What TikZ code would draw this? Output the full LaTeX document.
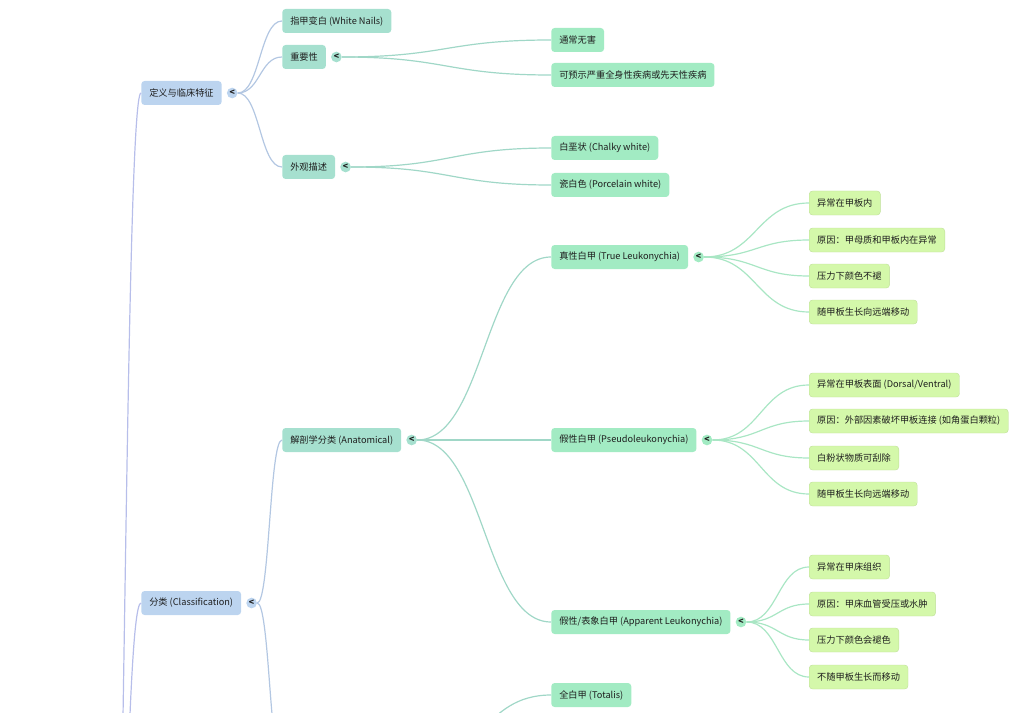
\documentclass[tikz,border=0pt]{standalone}
\usepackage{fontspec}
\usepackage{tikz}
\usetikzlibrary{positioning,calc}
\newfontfamily\cjk{Noto Sans CJK SC}
\definecolor{ink}{HTML}{1E1E1E}
\definecolor{lvone}{HTML}{BCD4EF}
\definecolor{lvtwo}{HTML}{A6E0CF}
\definecolor{lvthree}{HTML}{A2EBC3}
\definecolor{lvfour}{HTML}{D4F8AA}
\definecolor{edgeroot}{HTML}{B7BEEA}
\definecolor{edgeone}{HTML}{B3C7E2}
\definecolor{edgetwo}{HTML}{A0D7C7}
\definecolor{edgethree}{HTML}{A9E6C4}

\begin{document}
\begin{tikzpicture}[
  x=0.75pt,y=-0.75pt,
  box/.style={rounded corners=2.5pt,minimum height=18pt,inner xsep=6pt,inner ysep=2pt,
              anchor=west,font=\cjk\fontsize{6.9}{8}\selectfont,text=ink},
  one/.style={box,fill=lvone},
  two/.style={box,fill=lvtwo},
  three/.style={box,fill=lvthree},
  four/.style={box,fill=lvfour,draw=lvfour!90!black,line width=0.3pt},
  fold/.style={circle,inner sep=0pt,minimum size=8pt,text=ink,
               font=\cjk\fontsize{6.5}{6.5}\selectfont\bfseries},
  lk/.style={line width=0.9pt,
             to path={.. controls ($(\tikztostart)!0.5!(\tikztotarget|-\tikztostart)$)
                      and ($(\tikztotarget)!0.5!(\tikztostart|-\tikztotarget)$) .. (\tikztotarget)}}
]
\useasboundingbox (0,0) rectangle (1017,713);
\clip (0,0) rectangle (1017,713);

% level 1
\node[one] (nDef) at (141,93) {定义与临床特征};
\node[fold,fill=lvone,right=3.5pt of nDef] (dDef) {<};
\node[one] (nCls) at (141,603) {分类 (Classification)};
\node[fold,fill=lvone,right=3.5pt of nCls] (dCls) {<};

% level 2
\node[two] (nWhite) at (282,21) {指甲变白 (White Nails)};
\node[two] (nImp) at (282,57) {重要性};
\node[fold,fill=lvtwo,right=3.5pt of nImp] (dImp) {<};
\node[two] (nLook) at (282,167) {外观描述};
\node[fold,fill=lvtwo,right=3.5pt of nLook] (dLook) {<};
\node[two] (nAnat) at (282,440) {解剖学分类 (Anatomical)};
\node[fold,fill=lvtwo,right=3.5pt of nAnat] (dAnat) {<};

% level 3
\node[three] (nHarm) at (551,40) {通常无害};
\node[three] (nSys) at (551,75) {可预示严重全身性疾病或先天性疾病};
\node[three] (nChalk) at (551,148) {白垩状 (Chalky white)};
\node[three] (nPorc) at (551,185) {瓷白色 (Porcelain white)};
\node[three] (nTrue) at (551,257) {真性白甲 (True Leukonychia)};
\node[fold,fill=lvthree,right=3.5pt of nTrue] (dTrue) {<};
\node[three] (nPseudo) at (551,440) {假性白甲 (Pseudoleukonychia)};
\node[fold,fill=lvthree,right=3.5pt of nPseudo] (dPseudo) {<};
\node[three] (nAppar) at (551,622) {假性/表象白甲 (Apparent Leukonychia)};
\node[fold,fill=lvthree,right=3.5pt of nAppar] (dAppar) {<};
\node[three] (nTotal) at (551,695) {全白甲 (Totalis)};

% level 4
\node[four] (t1) at (809,203) {异常在甲板内};
\node[four] (t2) at (809,240) {原因：甲母质和甲板内在异常};
\node[four] (t3) at (809,276) {压力下颜色不褪};
\node[four] (t4) at (809,312) {随甲板生长向远端移动};
\node[four] (p1) at (809,385) {异常在甲板表面 (Dorsal/Ventral)};
\node[four] (p2) at (809,421) {原因：外部因素破坏甲板连接 (如角蛋白颗粒)};
\node[four] (p3) at (809,458) {白粉状物质可刮除};
\node[four] (p4) at (809,494) {随甲板生长向远端移动};
\node[four] (a1) at (809,567) {异常在甲床组织};
\node[four] (a2) at (809,604) {原因：甲床血管受压或水肿};
\node[four] (a3) at (809,640) {压力下颜色会褪色};
\node[four] (a4) at (809,677) {不随甲板生长而移动};

% parents outside the visible part
\coordinate (root) at (108,1150);
\coordinate (clsDown) at (282,765);
\coordinate (extDot) at (412,765);

\draw[lk,edgeroot] (root) to (nDef.west);
\draw[lk,edgeroot] (root) to (nCls.west);
\draw[lk,edgeone] (dDef.east) to (nWhite.west);
\draw[lk,edgeone] (dDef.east) to (nImp.west);
\draw[lk,edgeone] (dDef.east) to (nLook.west);
\draw[lk,edgeone] (dCls.east) to (nAnat.west);
\draw[lk,edgeone] (dCls.east) to (clsDown);
\draw[lk,edgetwo] (dImp.east) to (nHarm.west);
\draw[lk,edgetwo] (dImp.east) to (nSys.west);
\draw[lk,edgetwo] (dLook.east) to (nChalk.west);
\draw[lk,edgetwo] (dLook.east) to (nPorc.west);
\draw[lk,edgetwo] (dAnat.east) to (nTrue.west);
\draw[lk,edgetwo] (dAnat.east) to (nPseudo.west);
\draw[lk,edgetwo] (dAnat.east) to (nAppar.west);
\draw[lk,edgetwo] (extDot) to (nTotal.west);
\foreach \k in {t1,t2,t3,t4} \draw[lk,edgethree] (dTrue.east) to (\k.west);
\foreach \k in {p1,p2,p3,p4} \draw[lk,edgethree] (dPseudo.east) to (\k.west);
\foreach \k in {a1,a2,a3,a4} \draw[lk,edgethree] (dAppar.east) to (\k.west);
\end{tikzpicture}
\end{document}
